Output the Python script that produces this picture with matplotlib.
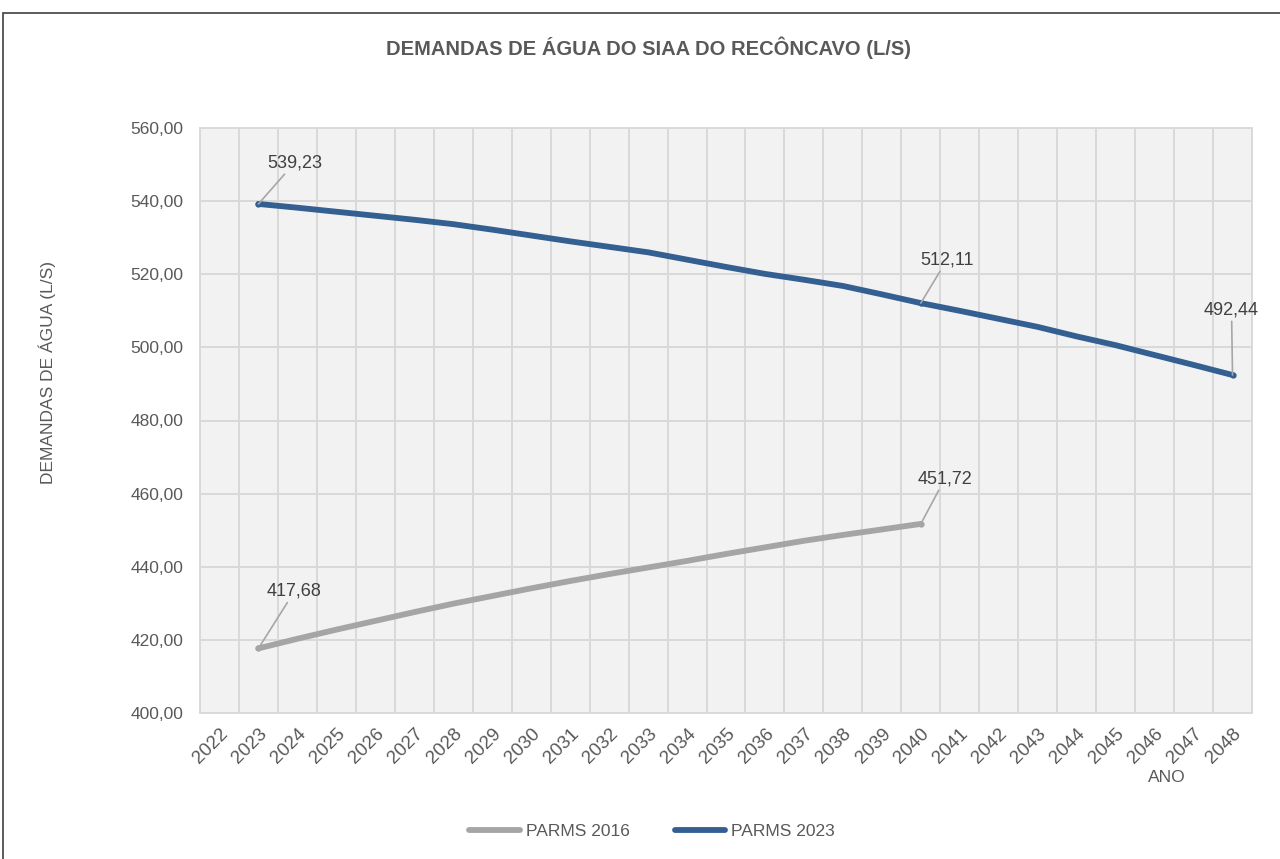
import matplotlib
matplotlib.use("Agg")
import matplotlib.pyplot as plt
from matplotlib import font_manager
from matplotlib.patches import Rectangle

# data
anos = list(range(2022, 2049))
anos_2016 = list(range(2023, 2041))
parms_2016 = [417.68, 420.3, 422.8, 425.2, 427.6, 429.9, 432.0, 434.1, 436.1,
              438.0, 439.8, 441.6, 443.5, 445.3, 447.1, 448.7, 450.2, 451.72]
anos_2023 = list(range(2023, 2049))
parms_2023 = [539.23, 538.2, 537.1, 536.0, 534.9, 533.7, 532.2, 530.6, 529.0,
              527.5, 526.0, 524.0, 522.0, 520.1, 518.5, 516.8, 514.5, 512.11,
              510.0, 507.8, 505.6, 503.0, 500.6, 497.9, 495.2, 492.44]
yticks = [400, 420, 440, 460, 480, 500, 520, 540, 560]

# labelled points: (year, offset of text in pixels)
rotulos_2016 = [(2023, 36, 57), (2040, 24, 45)]
rotulos_2023 = [(2023, 36, 41), (2040, 26, 43), (2048, -1, 65)]

nomes = [f.name for f in font_manager.fontManager.ttflist]
fonte = "Liberation Sans Narrow" if "Liberation Sans Narrow" in nomes else "Liberation Sans"
plt.rcParams["font.family"] = [fonte, "DejaVu Sans"]

cinza_txt = "#595959"
cor_2016 = "#a5a5a5"
cor_2023 = "#335f91"

fig = plt.figure(figsize=(12.8, 8.59), dpi=100)
fig.patches.append(Rectangle((3 / 1280, -0.1), 1.2, 1.1 - 13 / 859,
                             transform=fig.transFigure, fill=False,
                             edgecolor="#404040", linewidth=1.2))

ax = fig.add_axes([200 / 1280, 1 - 713 / 859, 1052 / 1280, 585 / 859])
ax.set_facecolor("#f2f2f2")

pos = {a: i for i, a in enumerate(anos)}
x16 = [pos[a] for a in anos_2016]
x23 = [pos[a] for a in anos_2023]

ax.plot(x16, parms_2016, color=cor_2016, lw=4.2, solid_capstyle="round",
        solid_joinstyle="round", label="PARMS 2016", zorder=3)
ax.plot(x23, parms_2023, color=cor_2023, lw=4.2, solid_capstyle="round",
        solid_joinstyle="round", label="PARMS 2023", zorder=3)


def rotular(anos_s, valores, lista, cor):
    for ano, dx, dy in lista:
        v = valores[anos_s.index(ano)]
        ax.plot(pos[ano], v, "o", ms=3.5, color=cor, zorder=4)
        ax.annotate(f"{v:.2f}".replace(".", ","), xy=(pos[ano], v),
                    xytext=(dx, dy), textcoords="offset pixels",
                    ha="center", va="center", fontsize=13, color="#404040",
                    arrowprops=dict(arrowstyle="-", color="#a6a6a6", lw=1.2,
                                    shrinkA=0, shrinkB=0), zorder=5)


rotular(anos_2016, parms_2016, rotulos_2016, cor_2016)
rotular(anos_2023, parms_2023, rotulos_2023, cor_2023)

ax.set_xlim(-0.5, len(anos) - 0.5)
ax.set_ylim(400, 560)
ax.set_xticks(range(len(anos)))
ax.set_xticklabels([str(a) for a in anos], rotation=45, ha="right", va="top",
                   rotation_mode="anchor", fontsize=13.5, color=cinza_txt)
ax.set_xticks([i - 0.5 for i in range(len(anos) + 1)], minor=True)
ax.set_yticks(yticks)
ax.set_yticklabels([f"{t:.2f}".replace(".", ",") for t in yticks],
                   fontsize=12.5, color=cinza_txt)
ax.tick_params(axis="both", which="both", length=0)
ax.tick_params(axis="x", pad=9)
ax.tick_params(axis="y", pad=12)
ax.grid(True, which="minor", axis="x", color="#d9d9d9", lw=1.4)
ax.grid(True, which="major", axis="y", color="#d9d9d9", lw=1.4)
ax.set_axisbelow(True)
for s in ax.spines.values():
    s.set_color("#d9d9d9")
    s.set_linewidth(1.4)

fig.text(649 / 1280, 1 - 48 / 859, "DEMANDAS DE ÁGUA DO SIAA DO RECÔNCAVO (L/S)",
         ha="center", va="center", fontsize=14.5, fontweight="bold",
         color=cinza_txt)
fig.text(47 / 1280, 1 - 372 / 859, "DEMANDAS DE ÁGUA (L/S)", rotation=90,
         ha="center", va="center", fontsize=12.5, color=cinza_txt)
fig.text(1167 / 1280, 1 - 778 / 859, "ANO", ha="center", va="center",
         fontsize=12.5, color=cinza_txt)

fig.legend(loc="center", bbox_to_anchor=(652 / 1280, 1 - 831 / 859), ncol=2,
           frameon=False, fontsize=12.5, handlelength=2.9, handletextpad=0.35,
           columnspacing=2.6, labelcolor=cinza_txt)

fig.savefig("out.png", dpi=100)
